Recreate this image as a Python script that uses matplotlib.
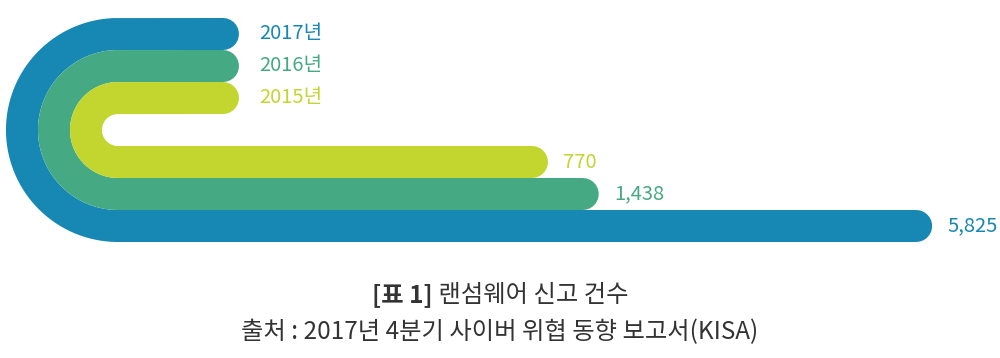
import numpy as np
import matplotlib
matplotlib.use("Agg")
import matplotlib.pyplot as plt

plt.rcParams['font.family'] = ['Noto Sans CJK KR', 'DejaVu Sans']

# ---- data ----
years = ["2017년", "2016년", "2015년"]
values = [5825, 1438, 770]
value_labels = ["5,825", "1,438", "770"]
colors = ["#1787b4", "#45a983", "#c2d62f"]
title = "[표 1]"
title_rest = " 랜섬웨어 신고 건수"
source = "출처 : 2017년 4분기 사이버 위협 동향 보고서(KISA)"

# ---- layout ----
W, H, DPI = 1000, 358, 100
fig = plt.figure(figsize=(W / DPI, H / DPI), dpi=DPI)
ax = fig.add_axes([0, 0, 1, 1])
ax.set_xlim(-6230, 6928)
ax.set_ylim(10.125, -1.0625)
ax.axis("off")

# pixel scale of data units
x_per_px = (6928 + 6230) / W
y_per_px = (10.125 + 1.0625) / H
center_row = 3.0
arc_cx = -4678          # x where the straight parts meet the arc
top_end = -3296         # x where the top strokes end
lw_pt = 32 * 72 / DPI

for i, (yr, v, lab, c) in enumerate(zip(years, values, value_labels, colors)):
    r_rows = 3 - i
    r_px = r_rows / y_per_px
    t = np.linspace(-np.pi / 2, np.pi / 2, 200)
    arc_x = arc_cx - r_px * np.cos(t) * x_per_px
    arc_y = center_row + r_rows * np.sin(t)
    xs = np.concatenate([[top_end], arc_x, [v]])
    ys = np.concatenate([[center_row - r_rows], arc_y, [center_row + r_rows]])
    ax.plot(xs, ys, color=c, lw=lw_pt, solid_capstyle="round",
            solid_joinstyle="round")
    ax.annotate(yr, (top_end, center_row - r_rows), xytext=(36 * 72 / DPI, 0),
                textcoords="offset points", va="center", ha="left",
                color=c, fontsize=14.5)
    ax.annotate(lab, (v, center_row + r_rows), xytext=(31 * 72 / DPI, 0),
                textcoords="offset points", va="center", ha="left",
                color=c, fontsize=14.5)

FS = 17.5
fig.canvas.draw()
r = fig.canvas.get_renderer()
tmp_b = fig.text(0, 0, title, fontsize=FS, fontweight="bold")
tmp_r = fig.text(0, 0, title_rest, fontsize=FS)
wb = tmp_b.get_window_extent(r).width
wr = tmp_r.get_window_extent(r).width
tmp_b.remove()
tmp_r.remove()
x0 = (W - wb - wr) / 2 / W
fig.text(x0, 1 - 295 / H, title, ha="left", va="center", fontsize=FS,
         color="#333333", fontweight="bold")
fig.text(x0 + wb / W, 1 - 295 / H, title_rest, ha="left", va="center",
         fontsize=FS, color="#333333")

fig.text(0.5, 1 - 332 / H, source, ha="center", va="center",
         fontsize=FS, color="#333333")

fig.savefig("out.png", dpi=DPI)
